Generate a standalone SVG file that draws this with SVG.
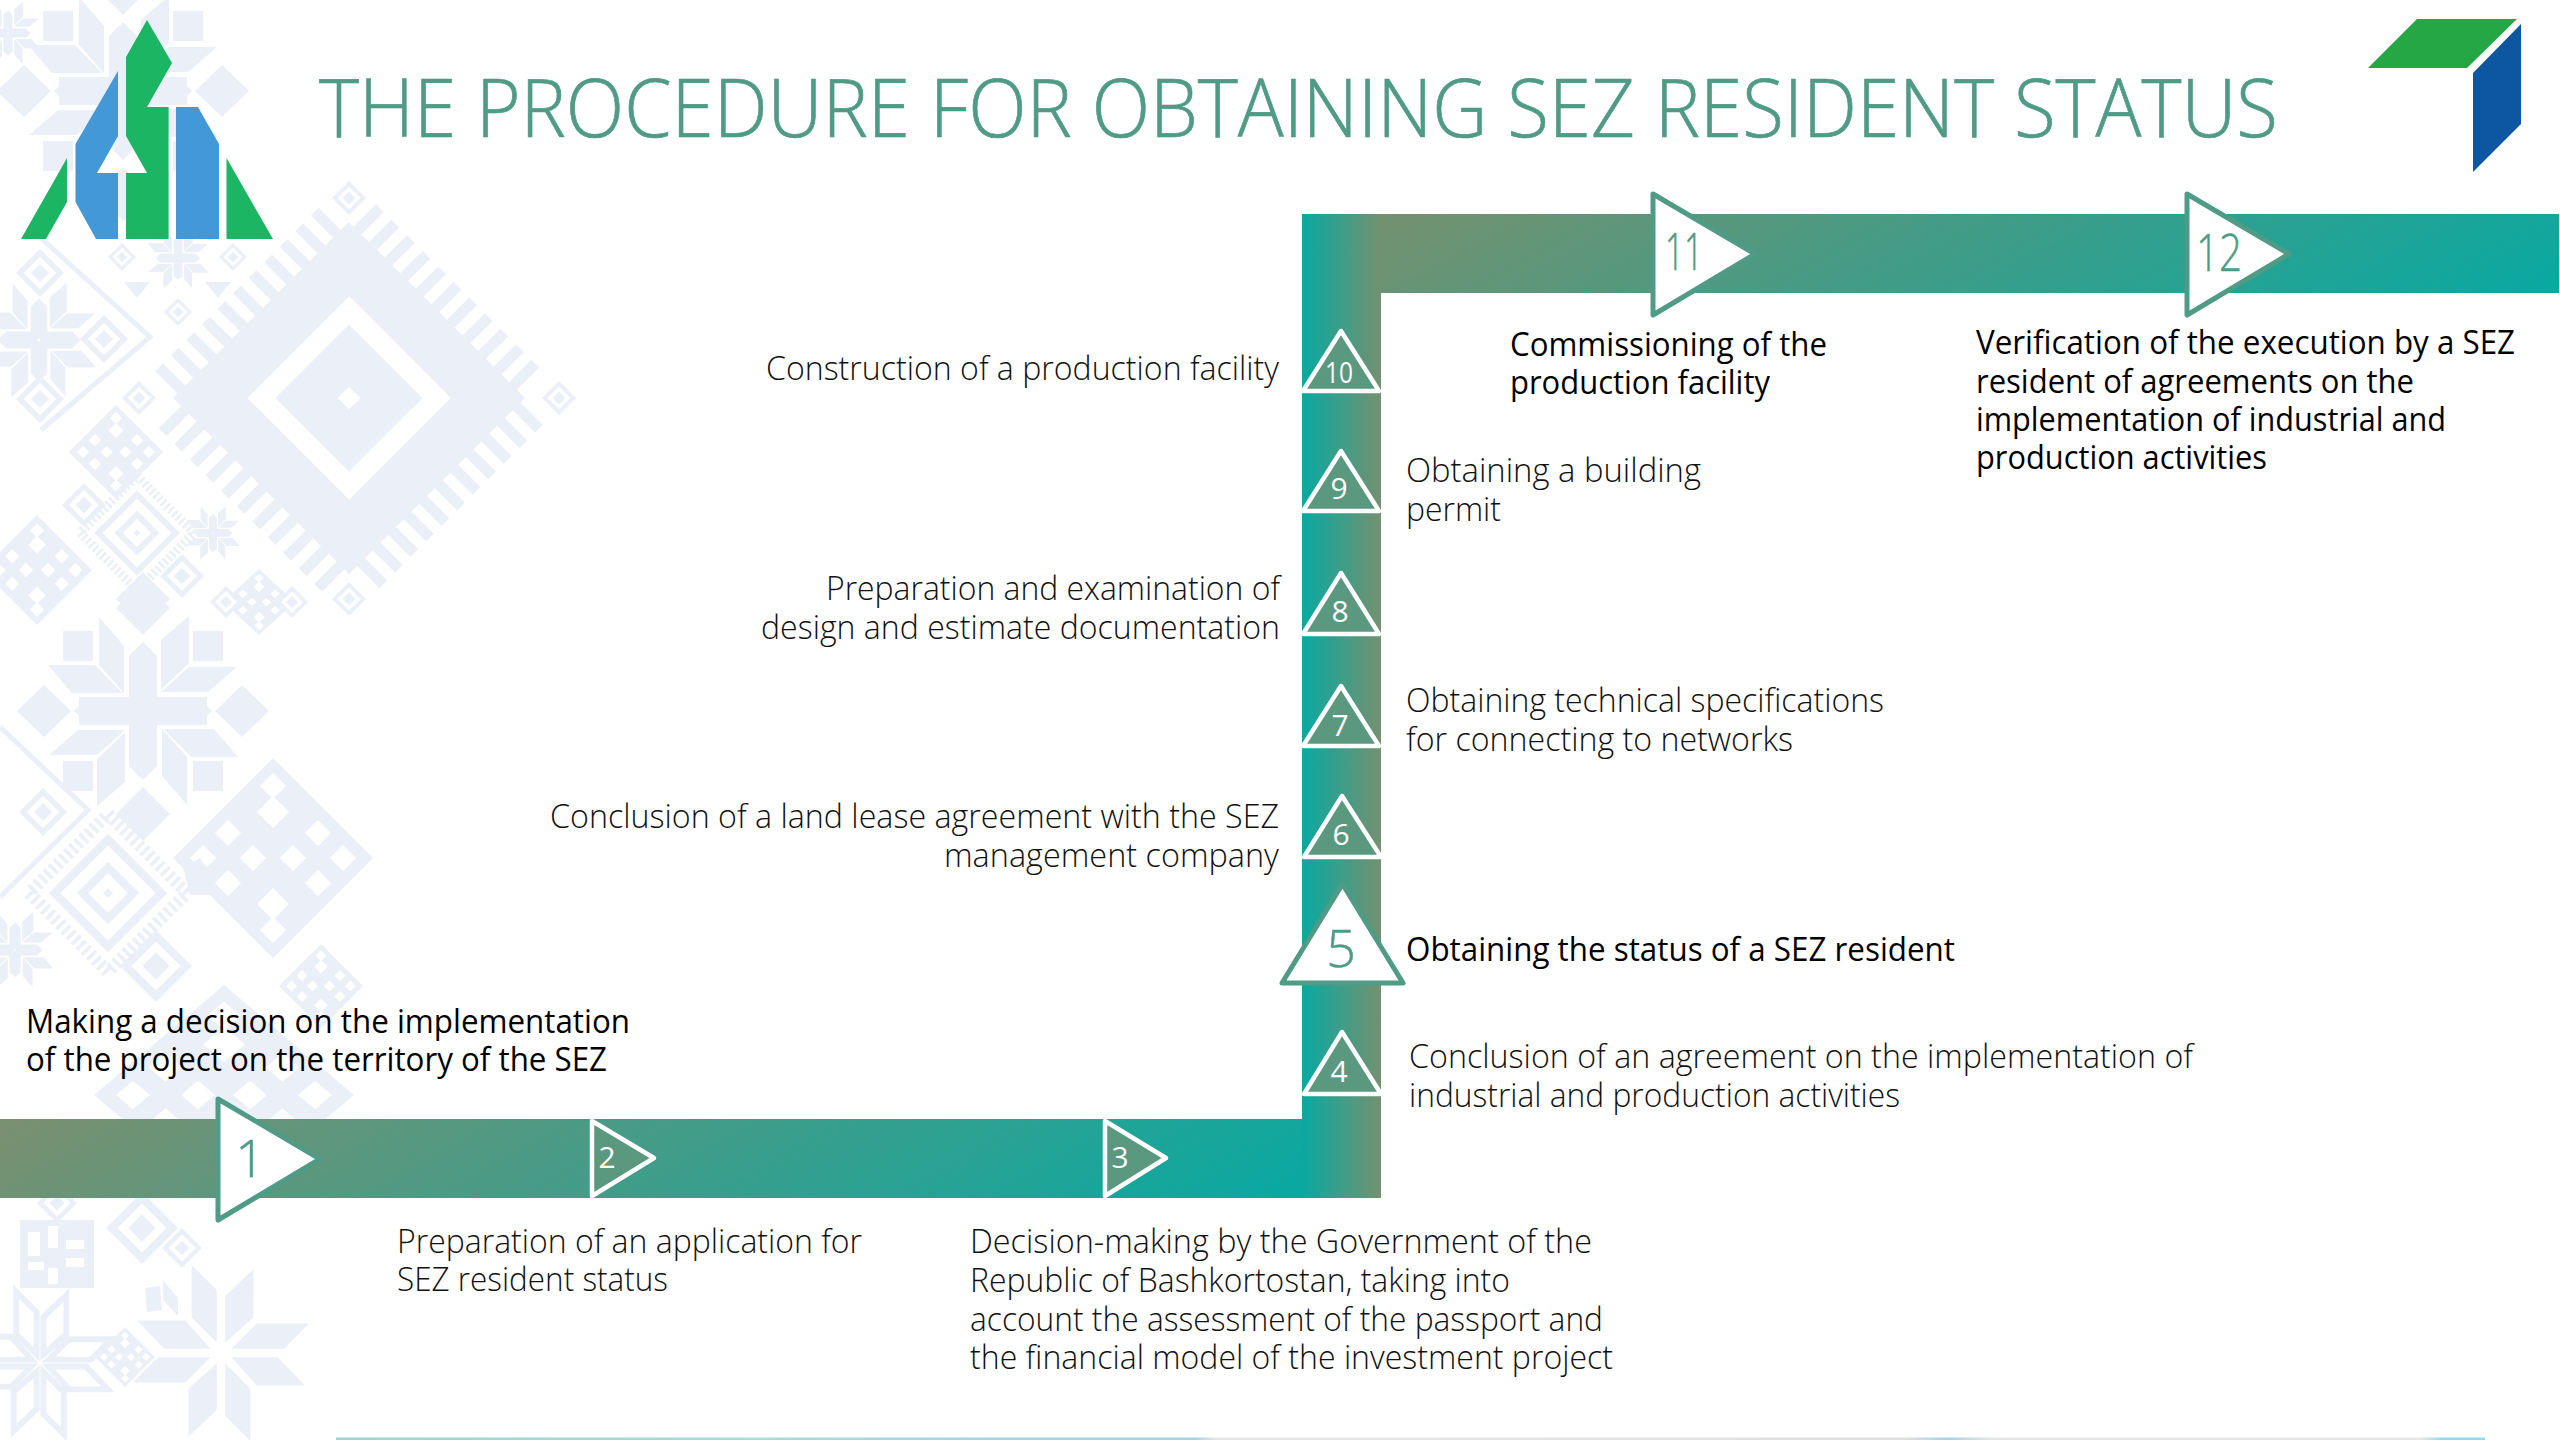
<svg xmlns="http://www.w3.org/2000/svg" xmlns:xlink="http://www.w3.org/1999/xlink" width="2560" height="1440" viewBox="0 0 2560 1440">
<style>
.p{fill:#EBF0F8}.w{fill:#fff}
.pl{fill:none;stroke:#EBF0F8}
text{font-family:"Open Sans","Noto Sans","Liberation Sans",sans-serif}
.l{font-size:33px;font-weight:300;fill:#111}
.b{font-size:33px;font-weight:400;fill:#000}
.t{font-size:81px;font-weight:300;fill:#4F9B85;stroke:#4F9B85;stroke-width:.7}
.n{text-anchor:middle;font-weight:300}
.ng{fill:#4F9B85;font-size:52px;stroke:#4F9B85;stroke-width:.5}
.nw{fill:#fff;font-size:30px;font-weight:400}
.tw{fill:#5A987F;stroke:#fff;stroke-width:4.5;stroke-linejoin:round}
.tg{fill:#fff;stroke:#4F9B85;stroke-width:5;stroke-linejoin:round}
</style>
<defs>
<linearGradient id="gb" gradientUnits="userSpaceOnUse" x1="0" y1="1119" x2="340" y2="1732"><stop offset="0" stop-color="#7B9070"/><stop offset="1" stop-color="#08A9A2"/></linearGradient>
<linearGradient id="gt" gradientUnits="userSpaceOnUse" x1="1381" y1="214" x2="1692" y2="774"><stop offset="0" stop-color="#74916F"/><stop offset="1" stop-color="#08A9A2"/></linearGradient>
<linearGradient id="gv" gradientUnits="userSpaceOnUse" x1="1302" y1="0" x2="1381" y2="0"><stop offset="0" stop-color="#08A9A2"/><stop offset="1" stop-color="#74916F"/></linearGradient>
<linearGradient id="gl" gradientUnits="userSpaceOnUse" x1="336" y1="0" x2="2485" y2="0"><stop offset="0" stop-color="#9DD6CE"/><stop offset=".2" stop-color="#A8DCD6"/><stop offset=".3" stop-color="#A5D3E8"/><stop offset=".4" stop-color="#A5D3E8"/><stop offset=".41" stop-color="#E6E6E6"/><stop offset=".73" stop-color="#E0E0E0"/><stop offset=".75" stop-color="#A5D3E8"/><stop offset=".77" stop-color="#E6E6E6"/><stop offset=".97" stop-color="#E6E6E6"/><stop offset=".98" stop-color="#8FDCF0"/><stop offset="1" stop-color="#8FDCF0"/></linearGradient>
<polygon id="d" points="0,-100 100,0 0,100 -100,0"/>
<g id="ring"><use href="#d" class="p"/><use href="#d" class="w" transform="scale(.68)"/><use href="#d" class="p" transform="scale(.38)"/></g>
<g id="q"><polygon points="0,-69 14,-55 14,-2 -14,-2 -14,-55"/><polygon points="18,-71 46,-95 46,-48 18,-21"/><polygon points="18,-19 46,-44 94,-44 65,-19"/></g>
<g id="pet" class="p"><use href="#q"/><use href="#q" transform="rotate(90)"/><use href="#q" transform="rotate(180)"/><use href="#q" transform="rotate(270)"/></g>
<g id="q2"><polygon points="4,-10 4,-54 31,-80 31,-34"/><polygon points="10,-4 34,-28 84,-28 60,-4"/></g>
<g id="star2"><use href="#q2"/><use href="#q2" transform="rotate(90)"/><use href="#q2" transform="rotate(180)"/><use href="#q2" transform="rotate(270)"/></g>
<g id="star" class="p"><use href="#pet"/><rect x="18" y="-14" width="46" height="28"/><rect x="-64" y="-14" width="46" height="28"/><rect x="-14" y="-14" width="28" height="28"/>
<rect x="50" y="-80" width="30" height="30"/><rect x="-80" y="-80" width="30" height="30"/><rect x="50" y="50" width="30" height="30"/><rect x="-80" y="50" width="30" height="30"/>
<polygon points="72,0 99,-26 126,0 99,26"/><polygon points="-72,0 -99,-26 -126,0 -99,26"/><polygon points="0,-76 27,-103 0,-130 -27,-103"/><polygon points="0,76 27,103 0,130 -27,103"/></g>
<g id="lat"><use href="#d" class="p"/><g class="w"><use href="#d" transform="translate(-70,0) scale(.13)"/><use href="#d" transform="translate(-20,0) scale(.13)"/><use href="#d" transform="translate(20,0) scale(.13)"/><use href="#d" transform="translate(70,0) scale(.13)"/><use href="#d" transform="translate(-45,-25) scale(.13)"/><use href="#d" transform="translate(45,-25) scale(.13)"/><use href="#d" transform="translate(-45,25) scale(.13)"/><use href="#d" transform="translate(45,25) scale(.13)"/><use href="#d" transform="translate(0,-72) scale(.13)"/><use href="#d" transform="translate(0,72) scale(.13)"/><use href="#d" transform="translate(0,-46) scale(.16)"/><use href="#d" transform="translate(0,46) scale(.16)"/></g></g>
<g id="tooth"><g transform="rotate(45)"><rect x="-62" y="-62" width="124" height="124" fill="none" stroke="#EBF0F8" stroke-width="14" stroke-dasharray="4 4"/><rect x="-42" y="-42" width="84" height="84" fill="none" stroke="#EBF0F8" stroke-width="9"/><rect x="-20" y="-20" width="40" height="40" fill="none" stroke="#EBF0F8" stroke-width="9"/><rect x="-4" y="-4" width="8" height="8" fill="#EBF0F8"/></g></g>
</defs>
<rect width="2560" height="1440" fill="#fff"/>
<g id="pattern">
<g transform="translate(349,398) rotate(45)">
<rect x="-124.500" y="-124.500" width="249" height="249" class="p"/>
<g class="pl" stroke-width="32" stroke-dasharray="11 11"><path d="M-118,-140H118M140,-118V118M118,140H-118M-140,118V-118"/></g>
<rect x="-72" y="-72" width="144" height="144" class="w"/><rect x="-52" y="-52" width="104" height="104" class="p"/><rect x="-8" y="-8" width="16" height="16" class="w"/>
</g>
<use href="#ring" transform="translate(349,198) scale(.17)"/><use href="#ring" transform="translate(349,599) scale(.17)"/><use href="#ring" transform="translate(559,398) scale(.17)"/><use href="#ring" transform="translate(139,398) scale(.17)"/>
<use href="#star" transform="translate(123,91)"/>
<use href="#star" transform="translate(143,711)"/>
<use href="#pet" transform="translate(8,33) scale(.33)"/>
<use href="#pet" transform="translate(178,258) scale(.32)"/>
<use href="#pet" transform="translate(213,533) scale(.28)"/>
<use href="#pet" transform="translate(39,340) scale(.6)"/>
<g class="p"><use href="#star2" transform="translate(221,1353) scale(1.05)"/></g>
<g fill="#fff" stroke="#EBF0F8" stroke-width="7"><use href="#star2" transform="translate(40,1363) scale(.85)"/></g>
<use href="#pet" transform="translate(15,950) scale(.4)"/>
<use href="#ring" transform="translate(84,505) scale(.22)"/>
<use href="#ring" transform="translate(182,576) scale(.22)"/>
<use href="#ring" transform="translate(40,399) scale(.24)"/>
<use href="#ring" transform="translate(40,273) scale(.24)"/>
<use href="#ring" transform="translate(104,339) scale(.24)"/>
<use href="#ring" transform="translate(43,812) scale(.24)"/>
<use href="#ring" transform="translate(156,966) scale(.36)"/>
<use href="#ring" transform="translate(142,1228) scale(.36)"/>
<use href="#ring" transform="translate(182,1248) scale(.2)"/>
<use href="#ring" transform="translate(57,1203) scale(.2)"/>
<use href="#ring" transform="translate(122,257) scale(.14)"/>
<use href="#ring" transform="translate(233,257) scale(.14)"/>
<use href="#ring" transform="translate(178,312) scale(.14)"/>
<use href="#lat" transform="translate(273,858)"/>
<use href="#lat" transform="translate(116,452) scale(.47)"/>
<use href="#lat" transform="translate(37,570) scale(.55)"/>
<use href="#lat" transform="translate(224,1095) scale(1.3,1.1)"/>
<use href="#lat" transform="translate(259,602) scale(.36,.33)"/>
<use href="#ring" transform="translate(226,602) scale(.16)"/>
<use href="#ring" transform="translate(292,602) scale(.16)"/>
<use href="#lat" transform="translate(321,986) scale(.42)"/>
<use href="#lat" transform="translate(125,1357) scale(.3)"/>
<use href="#tooth" transform="translate(137,533) scale(.65)"/>
<use href="#tooth" transform="translate(108,893) scale(.9)"/>
<use href="#d" class="p" transform="translate(143,599) scale(.27)"/>
<path class="pl" stroke-width="5" d="M0,727L88,810L0,897M41,238L150,337L41,430"/>
<rect x="20" y="1220" width="74" height="68" class="p"/><g class="w"><rect x="28" y="1232" width="12" height="24"/><rect x="48" y="1226" width="10" height="22"/><rect x="66" y="1240" width="18" height="9"/><rect x="28" y="1262" width="16" height="8"/><rect x="48" y="1268" width="10" height="16"/><rect x="66" y="1258" width="18" height="9"/></g>
<polygon class="p" points="145,1288 160,1286 162,1310 147,1312"/>
<polygon class="p" points="163,1280 178,1298 178,1316 163,1300"/>
<polygon class="p" points="183,868 200,858 215,880 215,895 190,895"/>
<polygon class="p" points="124,282 150,282 137,298"/><polygon class="p" points="205,282 231,282 218,298"/>
</g>
<g id="logo-left">
<polygon fill="#1BB564" points="67,158 21,239 46,239 67,202"/>
<polygon fill="#4399D8" points="118,71 75.5,144 75.5,202 96,239 118,239 118,173 97,173 118,136"/>
<polygon fill="#1BB564" points="147,20 126,57 126,136 147,173 126,173 126,239 168.6,239 168.6,107 147,107 172,63"/>
<polygon fill="#4399D8" points="176,107 198,107 219,144 219,239 176,239"/>
<polygon fill="#1BB564" points="226.5,158 273,239 226.5,239"/>
</g>
<g id="logo-right">
<polygon fill="#25A745" points="2417,19 2517,19 2467,68 2368,68"/>
<polygon fill="#0C57A0" points="2521,24 2521,124 2473,172 2473,73"/>
</g>
<text id="title" class="t" x="319" y="137" textLength="1959" lengthAdjust="spacingAndGlyphs">THE PROCEDURE FOR OBTAINING SEZ RESIDENT STATUS</text>
<g id="connectors">
<rect x="0" y="1119" width="1302" height="79" fill="url(#gb)"/>
<rect x="1302" y="214" width="79" height="984" fill="url(#gv)"/>
<rect x="1381" y="214" width="1178" height="79" fill="url(#gt)"/>
<rect x="336" y="1437.500" width="2149" height="2.500" fill="url(#gl)"/>
</g>
<g id="n1"><polygon class="tg" points="218,1099 320,1159 218,1220"/><text class="n ng" x="250" y="1177">1</text>
<text class="b" x="26" y="1033" textLength="604" lengthAdjust="spacingAndGlyphs">Making a decision on the implementation</text><text class="b" x="26" y="1071" textLength="581" lengthAdjust="spacingAndGlyphs">of the project on the territory of the SEZ</text></g>
<g id="n2"><polygon class="tw" points="592,1121 654,1158 592,1196"/><text class="n nw" x="607" y="1168">2</text>
<text class="l" x="397" y="1253" textLength="465" lengthAdjust="spacingAndGlyphs">Preparation of an application for</text><text class="l" x="397" y="1291" textLength="271" lengthAdjust="spacingAndGlyphs">SEZ resident status</text></g>
<g id="n3"><polygon class="tw" points="1105,1121 1166,1158 1105,1196"/><text class="n nw" x="1120" y="1168">3</text>
<text class="l" x="970" y="1253" textLength="622" lengthAdjust="spacingAndGlyphs">Decision-making by the Government of the</text><text class="l" x="970" y="1292" textLength="540" lengthAdjust="spacingAndGlyphs">Republic of Bashkortostan, taking into</text><text class="l" x="970" y="1331" textLength="633" lengthAdjust="spacingAndGlyphs">account the assessment of the passport and</text><text class="l" x="970" y="1369" textLength="643" lengthAdjust="spacingAndGlyphs">the financial model of the investment project</text></g>
<g id="n4"><polygon class="tw" points="1342,1032 1381,1094 1304,1094"/><text class="n nw" x="1339" y="1082">4</text>
<text class="l" x="1409" y="1067.500" textLength="784" lengthAdjust="spacingAndGlyphs">Conclusion of an agreement on the implementation of</text><text class="l" x="1409" y="1106.500" textLength="491" lengthAdjust="spacingAndGlyphs">industrial and production activities</text></g>
<g id="n5"><polygon class="tg" points="1342.500,884 1403,983 1282,983"/><text class="n ng" x="1341" y="967">5</text>
<text class="b" x="1406" y="961" textLength="549" lengthAdjust="spacingAndGlyphs">Obtaining the status of a SEZ resident</text></g>
<g id="n6"><polygon class="tw" points="1342,796 1381,857 1304,857"/><text class="n nw" x="1341" y="845">6</text>
<text class="l" x="550" y="828" textLength="729" lengthAdjust="spacingAndGlyphs">Conclusion of a land lease agreement with the SEZ</text><text class="l" x="944" y="867" textLength="335" lengthAdjust="spacingAndGlyphs">management company</text></g>
<g id="n7"><polygon class="tw" points="1341,686 1379,746 1303,746"/><text class="n nw" x="1340" y="736">7</text>
<text class="l" x="1406" y="712" textLength="478" lengthAdjust="spacingAndGlyphs">Obtaining technical specifications</text><text class="l" x="1406" y="751" textLength="387" lengthAdjust="spacingAndGlyphs">for connecting to networks</text></g>
<g id="n8"><polygon class="tw" points="1341,573 1379,634 1303,634"/><text class="n nw" x="1340" y="622">8</text>
<text class="l" x="826" y="600" textLength="454" lengthAdjust="spacingAndGlyphs">Preparation and examination of</text><text class="l" x="761" y="639" textLength="519" lengthAdjust="spacingAndGlyphs">design and estimate documentation</text></g>
<g id="n9"><polygon class="tw" points="1341,451 1379,511 1303,511"/><text class="n nw" x="1339" y="499">9</text>
<text class="l" x="1406" y="482" textLength="295" lengthAdjust="spacingAndGlyphs">Obtaining a building</text><text class="l" x="1406" y="521" textLength="95" lengthAdjust="spacingAndGlyphs">permit</text></g>
<g id="n10"><polygon class="tw" points="1341,331 1379,391 1303,391"/><text class="n nw" x="1339" y="383" textLength="28" lengthAdjust="spacingAndGlyphs">10</text>
<text class="l" x="766" y="380" textLength="513" lengthAdjust="spacingAndGlyphs">Construction of a production facility</text></g>
<g id="n11"><polygon class="tg" points="1653,194 1755,254 1653,315"/><text class="n ng" x="1684" y="270" textLength="38" lengthAdjust="spacingAndGlyphs">11</text>
<text class="b" x="1510" y="356" textLength="317" lengthAdjust="spacingAndGlyphs">Commissioning of the</text><text class="b" x="1510" y="394" textLength="260" lengthAdjust="spacingAndGlyphs">production facility</text></g>
<g id="n12"><polygon class="tg" points="2187,194 2289,254 2187,315"/><text class="n ng" x="2219" y="271" textLength="46" lengthAdjust="spacingAndGlyphs">12</text>
<text class="b" x="1976" y="354" textLength="539" lengthAdjust="spacingAndGlyphs">Verification of the execution by a SEZ</text><text class="b" x="1976" y="392.500" textLength="438" lengthAdjust="spacingAndGlyphs">resident of agreements on the</text><text class="b" x="1976" y="431" textLength="470" lengthAdjust="spacingAndGlyphs">implementation of industrial and</text><text class="b" x="1976" y="469" textLength="291" lengthAdjust="spacingAndGlyphs">production activities</text></g>
</svg>
